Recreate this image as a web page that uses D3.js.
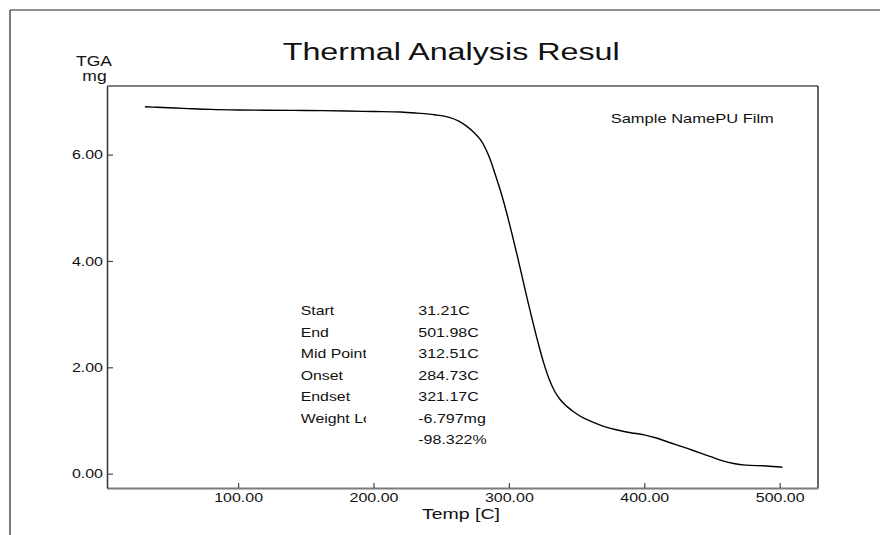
<!DOCTYPE html>
<html>
<head>
<meta charset="utf-8">
<script src="https://cdn.jsdelivr.net/npm/d3@7"></script>
<style>
  html, body { margin: 0; padding: 0; background: #fff; }
  svg { display: block; font-family: "Liberation Sans", Arial, sans-serif; }
</style>
</head>
<body>
<svg id="chart" width="880" height="535"></svg>
<script>
// ---- data ----
const temps = [31.2, 40, 60, 80, 100, 120, 150, 180, 200, 220, 232, 245, 256, 263, 269, 274, 279, 283, 286, 290, 294, 298, 302, 306, 310, 314, 318, 322, 326, 330, 334, 338, 343, 348, 355, 362, 370, 380, 390, 400, 409, 418, 429, 440, 449, 458, 466, 475, 490, 502];
const masses = [6.90, 6.89, 6.87, 6.85, 6.84, 6.835, 6.83, 6.82, 6.81, 6.80, 6.78, 6.75, 6.70, 6.63, 6.53, 6.42, 6.28, 6.10, 5.92, 5.62, 5.30, 4.94, 4.54, 4.12, 3.68, 3.24, 2.82, 2.42, 2.06, 1.76, 1.54, 1.39, 1.26, 1.16, 1.05, 0.97, 0.89, 0.82, 0.77, 0.73, 0.67, 0.59, 0.50, 0.40, 0.32, 0.24, 0.19, 0.16, 0.145, 0.12];
const xMajorTicks = [100, 200, 300, 400, 500];
const xMinorTicks = [20, 40, 60, 80, 120, 140, 160, 180, 220, 240, 260, 280, 320, 340, 360, 380, 420, 440, 460, 480, 520];
const yMajorTicks = [0, 2, 4, 6];
const yMinorTicks = [0.5, 1, 1.5, 2.5, 3, 3.5, 4.5, 5, 5.5, 6.5, 7];
const xDomain = [3.2, 528.3];
const yDomain = [-0.27, 7.29];
const titleText = "Thermal Analysis Resul";
const sampleText = "Sample NamePU Film";
const yAxisTitle = ["TGA", "mg"];
const xAxisTitle = "Temp  [C]";
const statLabels = ["Start", "End", "Mid Point", "Onset", "Endset", "Weight Loss", ""];
const statValues = ["31.21C", "501.98C", "312.51C", "284.73C", "321.17C", "-6.797mg", "-98.322%"];

// ---- layout ----
const svg = d3.select("#chart");
const L = 107, R = 818, T = 86, B = 488;
const SX = 1.23;

const x = d3.scaleLinear().domain(xDomain).range([L, R]);
const y = d3.scaleLinear().domain(yDomain).range([B, T]);

// outer frame (partial)
svg.append("line").attr("x1", 10).attr("y1", 10).attr("x2", 880).attr("y2", 10).attr("stroke", "#222").attr("stroke-width", 1.2);
svg.append("line").attr("x1", 10).attr("y1", 10).attr("x2", 10).attr("y2", 535).attr("stroke", "#222").attr("stroke-width", 1.2);

// plot frame top/right
svg.append("line").attr("x1", L).attr("y1", T).attr("x2", R).attr("y2", T).attr("stroke", "#000").attr("stroke-width", 1.2);
svg.append("line").attr("x1", R).attr("y1", T).attr("x2", R).attr("y2", B).attr("stroke", "#000").attr("stroke-width", 1.2);

function txt(g, str, px, py, size, anchor, sx) {
  return g.append("text")
    .attr("transform", `translate(${px},${py}) scale(${sx},1)`)
    .attr("font-size", size)
    .attr("text-anchor", anchor)
    .attr("fill", "#111")
    .text(str);
}

// x axis
const gx = svg.append("g").attr("transform", `translate(0,${B})`);
gx.call(d3.axisBottom(x).tickValues(xMinorTicks).tickSize(-3).tickSizeOuter(0).tickFormat(""));
gx.call(d3.axisBottom(x).tickValues(xMajorTicks).tickSize(-5).tickSizeOuter(0).tickPadding(4.5).tickFormat(d3.format(".2f")));
gx.selectAll(".domain").attr("stroke", "#7a7a7a").attr("stroke-width", 2);
gx.selectAll(".tick line").attr("stroke", "#444").attr("stroke-width", 1.2);
gx.selectAll(".tick text").attr("font-size", 13).attr("fill", "#111")
  .attr("font-family", "'Liberation Sans', Arial, sans-serif")
  .attr("transform", `scale(${SX},1)`);

// y axis
const gy = svg.append("g").attr("transform", `translate(${L},0)`);
gy.call(d3.axisLeft(y).tickValues(yMinorTicks).tickSize(-3).tickSizeOuter(0).tickFormat(""));
gy.call(d3.axisLeft(y).tickValues(yMajorTicks).tickSize(-6).tickSizeOuter(0).tickPadding(0).tickFormat(d3.format(".2f")));
gy.selectAll(".domain").attr("stroke", "#333").attr("stroke-width", 1.5);
gy.selectAll(".tick line").attr("stroke", "#444").attr("stroke-width", 1.2);
gy.selectAll(".tick text").attr("font-size", 13).attr("fill", "#111")
  .attr("font-family", "'Liberation Sans', Arial, sans-serif")
  .attr("x", 0)
  .attr("transform", `translate(-4,0) scale(${SX},1)`);

// curve
const line = d3.line().x((d, i) => x(temps[i])).y(d => y(d)).curve(d3.curveMonotoneX);
svg.append("path").datum(masses).attr("d", line)
  .attr("fill", "none").attr("stroke", "#000").attr("stroke-width", 1.4);

// title
svg.append("text").attr("x", 282.7).attr("y", 60)
  .attr("font-size", 23).attr("fill", "#111")
  .attr("textLength", 337).attr("lengthAdjust", "spacingAndGlyphs")
  .text(titleText);

// y axis title
txt(svg, yAxisTitle[0], 94, 66, 14, "middle", 1.25);
txt(svg, yAxisTitle[1], 94.5, 81, 14, "middle", 1.25);

// x axis title
svg.append("text").attr("x", 422).attr("y", 519)
  .attr("font-size", 14).attr("fill", "#111")
  .attr("textLength", 78).attr("lengthAdjust", "spacingAndGlyphs")
  .text(xAxisTitle);

// clip regions for truncated texts
const defs = svg.append("defs");
defs.append("clipPath").attr("id", "clipSample").append("rect")
  .attr("x", 600).attr("y", 100).attr("width", 173).attr("height", 30);
defs.append("clipPath").attr("id", "clipLabels").append("rect")
  .attr("x", 290).attr("y", 290).attr("width", 76).attr("height", 170);

// sample name
const gs = svg.append("g").attr("clip-path", "url(#clipSample)");
txt(gs, sampleText, 610.7, 123, 13, "start", 1.27);

// stats block
const gl = svg.append("g").attr("clip-path", "url(#clipLabels)");
const rowY = d3.scaleLinear().domain([0, statValues.length - 1]).range([315, 444]);
statLabels.forEach((s, i) => { if (s) txt(gl, s, 300.7, rowY(i), 13, "start", 1.22); });
statValues.forEach((s, i) => txt(svg, s, 418.3, rowY(i), 13, "start", SX));
</script>
</body>
</html>
